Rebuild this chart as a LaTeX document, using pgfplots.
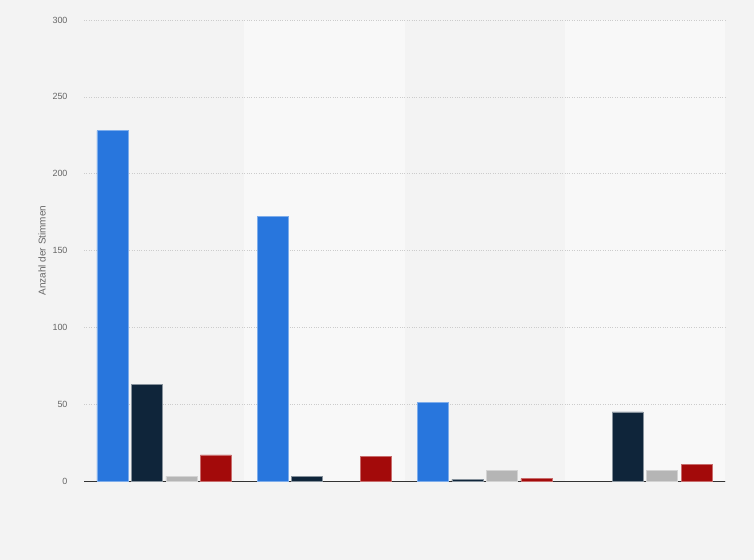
\documentclass[border=0pt]{standalone}
\usepackage{pgfplots}
\pgfplotsset{compat=1.18}
\usepackage{fontspec}
\setmainfont{Liberation Sans}
\pgfdeclarelayer{bg}
\definecolor{bgout}{HTML}{F3F3F3}
\definecolor{band}{HTML}{F8F8F8}
\definecolor{cblue}{HTML}{2876DD}
\definecolor{cnavy}{HTML}{0F253A}
\definecolor{cgray}{HTML}{B5B5B5}
\definecolor{cred}{HTML}{A30A0A}
\definecolor{ticktxt}{HTML}{666666}
\begin{document}
\begin{tikzpicture}[x=1bp,y=1bp]
\begin{axis}[
  set layers,
  at={(84bp,79bp)}, anchor=south west,
  scale only axis, width=641bp, height=461bp,
  xmin=-0.5, xmax=3.5, ymin=0, ymax=300,
  ytick={0,50,...,300}, xtick=\empty,
  ymajorgrids, major grid style={dotted, black!20},
  axis x line*=bottom, axis y line*=left,
  x axis line style={black!80, line width=0.9pt, -},
  y axis line style={draw=none},
  major tick length=0pt,
  tick label style={font=\fontsize{9}{10}\selectfont, text=ticktxt},
  /pgf/number format/assume math mode=true,
  yticklabel style={xshift=-13bp},
  ylabel={Anzahl der Stimmen},
  ylabel style={font=\fontsize{10}{11}\selectfont, text=ticktxt, at={(axis description cs:-0.0655,0.5)}, anchor=center},
  ybar=3.5bp, bar width=31bp,
  clip=false,
]
\begin{pgfonlayer}{axis background}
\fill[band] (axis cs:0.5,0) rectangle (axis cs:1.5,300);
\fill[band] (axis cs:2.5,0) rectangle (axis cs:3.5,300);
\end{pgfonlayer}
\addplot[fill=cblue, draw=cblue!60!white, line width=0.4pt] coordinates {(0,228) (1,172) (2,51)};
\addplot[fill=cnavy, draw=cnavy!50!white, line width=0.4pt] coordinates {(0,63) (1,3) (2,1) (3,45)};
\addplot[fill=cgray, draw=cgray!60!white, line width=0.4pt] coordinates {(0,3) (2,7) (3,7)};
\addplot[fill=cred, draw=cred!60!white, line width=0.4pt] coordinates {(0,17) (1,16) (2,1.5) (3,11)};
\end{axis}
\pgfsetlayers{bg,axis background,axis grid,axis ticks,axis lines,axis tick labels,main,axis descriptions,axis foreground}
\begin{pgfonlayer}{bg}
\fill[bgout] (0,0) rectangle (754,560);
\end{pgfonlayer}
\end{tikzpicture}
\end{document}
